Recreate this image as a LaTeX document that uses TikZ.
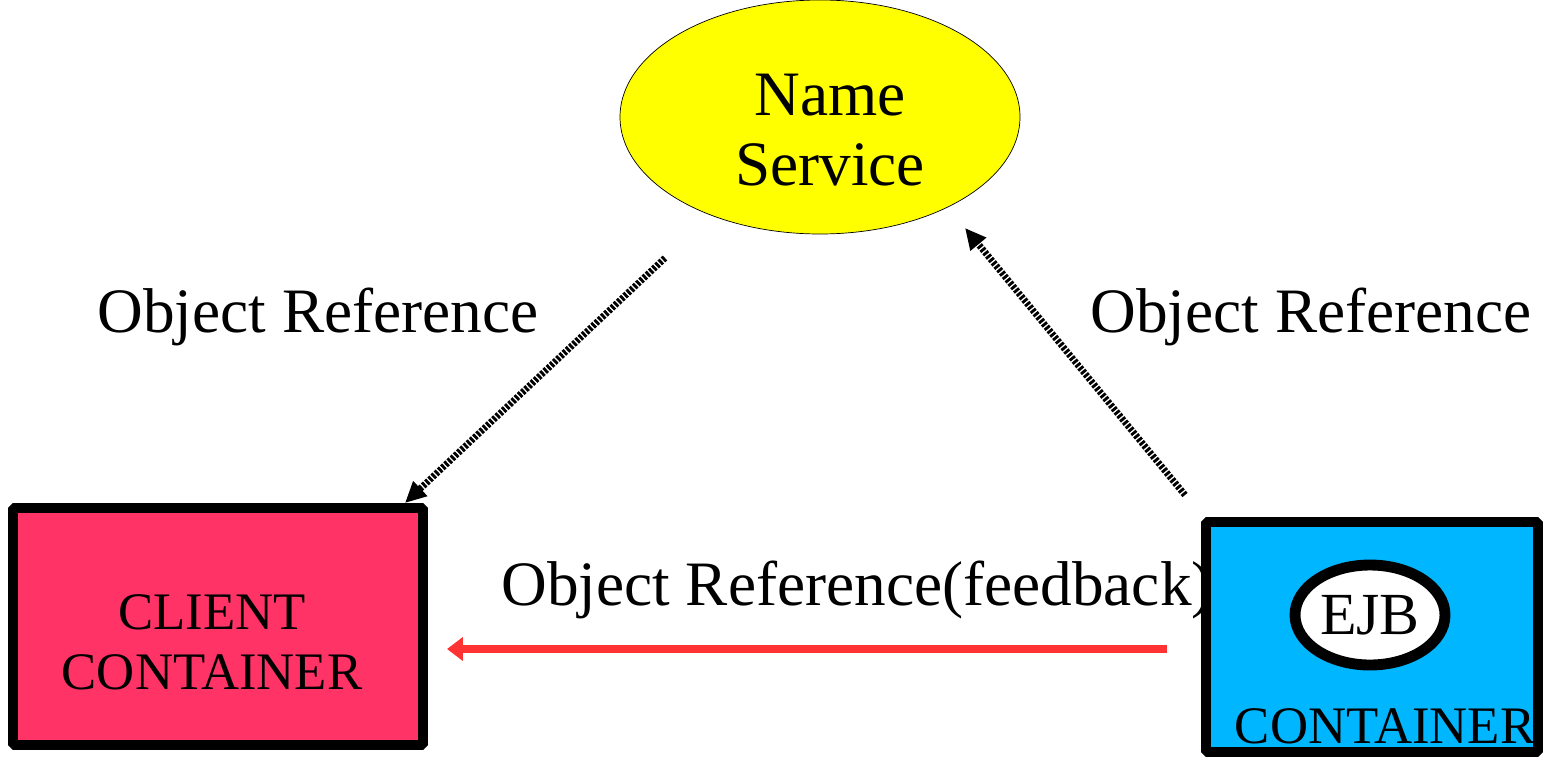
\documentclass[tikz,border=0pt]{standalone}
\usepackage{fontspec}
\setmainfont{Liberation Serif}
\usetikzlibrary{arrows.meta, shapes.geometric}

\definecolor{nameyellow}{RGB}{255,255,0}
\definecolor{clientpink}{RGB}{255,51,102}
\definecolor{ejbblue}{RGB}{0,182,255}
\definecolor{feedred}{RGB}{255,51,51}

\tikzset{
  bigbox/.style={draw=black, line width=5.6pt, rectangle, rounded corners=1pt, inner sep=0pt},
  lookup/.style={line width=3.8pt, dash pattern=on 1.6pt off 0.9pt, -{Triangle[length=12pt, width=11pt]}},
  feedback/.style={draw=feedred, line width=4.4pt, -{Triangle[length=9pt, width=13pt]}},
  bigtext/.style={font=\fontsize{36}{40}\selectfont}
}

\begin{document}
\begin{tikzpicture}
                  \useasboundingbox (0,0) rectangle (30.86,15.14);

                  % name service on top
                  \node (ns) [ellipse, draw, thin, fill=nameyellow, minimum width=8cm, minimum height=4.68cm, inner sep=0pt] at (16.4,12.8) {};
                  \node (nstext) [bigtext, align=center] at (16.6,12.54) {Name\\Service};

                  % the two containers
                  \node (client) [bigbox, fill=clientpink, minimum width=8.2cm, minimum height=4.74cm] at (4.36,2.61) {};
                  \node (clienttext) [font=\fontsize{30}{34}\selectfont, align=center] at (4.24,2.3) {CLIENT\\CONTAINER};

                  \node (server) [bigbox, fill=ejbblue, minimum width=6.64cm, minimum height=4.6cm] at (27.44,2.4) {};
                  \node (ejb) [ellipse, draw=black, line width=6.2pt, fill=white, minimum width=3cm, minimum height=2cm, inner sep=0pt, font=\fontsize{34}{38}\selectfont] at (27.4,2.84) {EJB};
                  \node (servertext) [font=\fontsize{30}{34}\selectfont] at (27.7,0.62) {CONTAINER};

                  % lookup arrows
                  \coordinate (getref) at (13.3,9.98);
                  \coordinate (clienttop) at (8.1,5.08);
                  \coordinate (bindref) at (23.7,5.24);
                  \coordinate (nsbottom) at (19.3,10.58);
                  \draw[lookup] (getref) -- (clienttop);
                  \draw[lookup] (bindref) -- (nsbottom);

                  % feedback arrow
                  \coordinate (fbstart) at (23.34,2.16);
                  \coordinate (fbend) at (8.94,2.16);
                  \draw[feedback] (fbstart) -- (fbend);

                  \node (leftref) [bigtext, anchor=base] at (6.36,8.5) {Object Reference};
                  \node (rightref) [bigtext, anchor=base] at (26.22,8.5) {Object Reference};
                  \node (fbref) [bigtext, anchor=base] at (17.14,3.04) {Object Reference(feedback)};
              \end{tikzpicture}
\end{document}
